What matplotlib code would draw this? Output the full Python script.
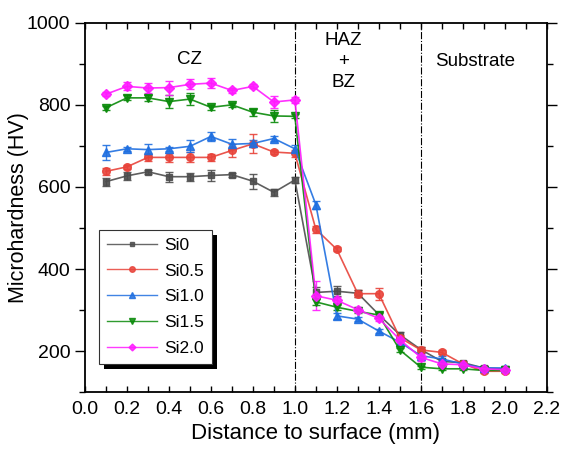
import numpy as np
import matplotlib
matplotlib.use("Agg")
import matplotlib.pyplot as plt
from matplotlib.patches import Rectangle
from matplotlib.lines import Line2D
from matplotlib.ticker import MultipleLocator

plt.rcParams['font.family'] = ['Liberation Sans', 'DejaVu Sans']

# --- data ---
dist = [0.1, 0.2, 0.3, 0.4, 0.5, 0.6, 0.7, 0.8, 0.9, 1.0,
        1.1, 1.2, 1.3, 1.4, 1.5, 1.6, 1.7, 1.8, 1.9, 2.0]

si0 = [613, 627, 637, 625, 625, 628, 630, 614, 587, 617,
       343, 346, 341, 289, 240, 204, 175, 172, 159, 157]
si0_err = [10, 10, 5, 12, 10, 14, 5, 18, 8, 8,
           13, 12, 8, 6, 6, 6, 5, 5, 4, 4]

si05 = [638, 649, 672, 672, 672, 672, 689, 705, 685, 682,
        497, 448, 340, 340, 233, 203, 197, 169, 151, 151]
si05_err = [8, 5, 8, 10, 12, 8, 15, 23, 5, 8,
            8, 5, 8, 15, 6, 6, 5, 5, 4, 4]

si10 = [684, 693, 691, 693, 699, 723, 704, 706, 718, 693,
        557, 286, 278, 249, 222, 189, 181, 169, 159, 159]
si10_err = [18, 5, 14, 5, 15, 12, 12, 8, 5, 8,
            10, 8, 5, 5, 6, 6, 8, 5, 4, 4]

si15 = [793, 817, 817, 808, 814, 794, 800, 782, 773, 772,
        320, 307, 297, 288, 203, 161, 157, 157, 153, 153]
si15_err = [5, 6, 8, 15, 15, 6, 5, 8, 15, 5,
            8, 6, 5, 5, 5, 4, 4, 4, 3, 3]

si20 = [826, 845, 841, 842, 850, 853, 835, 845, 807, 812,
        335, 324, 301, 280, 228, 185, 169, 167, 157, 155]
si20_err = [5, 10, 12, 17, 12, 13, 5, 5, 15, 8,
            35, 8, 6, 6, 6, 8, 5, 5, 4, 4]

labels = ["Si0", "Si0.5", "Si1.0", "Si1.5", "Si2.0"]
series = [si0, si05, si10, si15, si20]
errors = [si0_err, si05_err, si10_err, si15_err, si20_err]
colors = ["#4d4d4d", "#e8433a", "#1f6fe0", "#0a8a0a", "#ff1aff"]
markers = ["s", "o", "^", "v", "D"]
msizes = [5, 5.5, 6, 6, 5]

fig = plt.figure(figsize=(5.63, 4.55), dpi=100)
ax = fig.add_axes([0.151, 0.138, 0.820, 0.812])

handles = []
for y, e, c, m, ms, lab in zip(series, errors, colors, markers, msizes, labels):
    ax.errorbar(dist, y, yerr=e, color=c, marker=m, markersize=ms,
                lw=1.2, elinewidth=1.0, capsize=3, capthick=1.0, alpha=0.9)
    handles.append(Line2D([], [], color=c, marker=m, markersize=ms - 1.5,
                          lw=1.0, alpha=0.85, label=lab))

ax.axvline(1.0, color="k", ls="-.", lw=0.8)
ax.axvline(1.6, color="k", ls="-.", lw=0.8)

ax.text(0.5, 910, "CZ", ha="center", va="center", fontsize=13.5)
ax.text(1.23, 905, "HAZ\n+\nBZ", ha="center", va="center", fontsize=13.5,
        linespacing=1.3)
ax.text(1.86, 905, "Substrate", ha="center", va="center", fontsize=13.5)

ax.set_xlim(0, 2.2)
ax.set_ylim(100, 1000)
ax.xaxis.set_major_locator(MultipleLocator(0.2))
ax.xaxis.set_minor_locator(MultipleLocator(0.1))
ax.yaxis.set_minor_locator(MultipleLocator(100))
ax.set_yticks([200, 400, 600, 800, 1000])

ax.tick_params(axis="x", which="both", direction="in", top=True, length=4,
               width=1, labelsize=14, pad=6)
ax.tick_params(axis="y", which="major", direction="out", length=7, width=1,
               labelsize=14)
ax.tick_params(axis="y", which="minor", direction="out", length=4, width=1)
ax.tick_params(axis="y", which="both", right=True)
for sp in ax.spines.values():
    sp.set_linewidth(1.3)

ax.set_xlabel("Distance to surface (mm)", fontsize=16)
ax.set_ylabel("Microhardness (HV)", fontsize=15.5)
ax.yaxis.set_label_coords(-0.122, 0.5)

leg = ax.legend(handles=handles, loc="upper left", bbox_to_anchor=(0.03, 0.44),
                borderaxespad=0, fontsize=12.5, fancybox=False, framealpha=1,
                edgecolor="#333333", handlelength=2.9, labelspacing=0.62,
                borderpad=0.45, handletextpad=0.4)
leg.get_frame().set_linewidth(0.8)
leg.set_zorder(6)

# black drop shadow behind the legend box
fig.canvas.draw()
bb = leg.get_window_extent()
shadow = Rectangle((bb.x0 + 5, bb.y0 - 5), bb.width, bb.height,
                   transform=None, facecolor="black", edgecolor="none",
                   zorder=5.5)
ax.add_artist(shadow)

fig.savefig("out.png", dpi=100)
